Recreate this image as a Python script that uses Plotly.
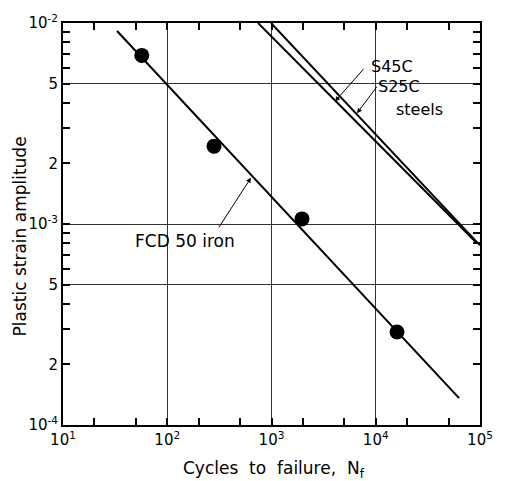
import math
import plotly.graph_objects as go

# ---- data ----
fcd_points_N = [57, 281, 1960, 16000]
fcd_points_eps = [6.9e-3, 2.44e-3, 1.06e-3, 2.9e-4]
fcd_line_N = [33, 63000]
fcd_line_eps = [9.13e-3, 1.36e-4]
s45c_line_N = [743, 91600]
s45c_line_eps = [1.0e-2, 8.11e-4]
s25c_line_N = [989, 100000]
s25c_line_eps = [1.0e-2, 7.83e-4]

x_tickvals = [10, 20, 50, 100, 200, 500, 1000, 2000, 5000, 10000, 20000, 50000, 100000]
x_ticktext = ["10<sup>1</sup>", "", "", "10<sup>2</sup>", "", "", "10<sup>3</sup>", "", "",
              "10<sup>4</sup>", "", "", "10<sup>5</sup>"]
y_tickvals = [1e-4, 2e-4, 3e-4, 4e-4, 5e-4, 6e-4, 7e-4, 8e-4, 9e-4,
              1e-3, 2e-3, 3e-3, 4e-3, 5e-3, 6e-3, 7e-3, 8e-3, 9e-3, 1e-2]
y_ticktext = ["10<sup>-4</sup>", "2", "", "", "5", "", "", "", "",
              "10<sup>-3</sup>", "2", "", "", "5", "", "", "", "", "10<sup>-2</sup>"]
grid_x = [100, 1000, 10000]
grid_y = [5e-4, 1e-3, 5e-3]

x_range = [1, 5]
y_range = [-4, -2]

FONT = "DejaVu Sans"

fig = go.Figure()

# invisible trace to anchor grid overlay axes
fig.add_trace(go.Scatter(x=[10, 100000], y=[1e-4, 1e-2], mode="markers",
                         marker=dict(opacity=0), xaxis="x2", yaxis="y2",
                         hoverinfo="skip", showlegend=False))

for xs, ys in [(fcd_line_N, fcd_line_eps), (s45c_line_N, s45c_line_eps),
               (s25c_line_N, s25c_line_eps)]:
    fig.add_trace(go.Scatter(x=xs, y=ys, mode="lines",
                             line=dict(color="black", width=2), showlegend=False))

fig.add_trace(go.Scatter(x=fcd_points_N, y=fcd_points_eps, mode="markers",
                         marker=dict(color="black", size=15), showlegend=False))

# annotations: (text, text position log10 x, log10 y, font size)
labels = [("S45C", 4.156, -2.215, 16), ("S25C", 4.223, -2.318, 16),
          ("steels", 4.424, -2.430, 16), ("FCD 50 iron", 2.175, -3.086, 17)]
for t, lx, ly, fs in labels:
    fig.add_annotation(x=lx, y=ly, xref="x", yref="y", text=t, showarrow=False,
                       font=dict(family=FONT, size=fs, color="black"))

# arrows: head position (log10 x, log10 y), tail offset in px
arrows = [(3.609, -2.390, 30, -34), (3.820, -2.449, 21, -28), (2.803, -2.770, -33, 51)]
for hx, hy, ax, ay in arrows:
    fig.add_annotation(x=hx, y=hy, xref="x", yref="y", text="", showarrow=True,
                       ax=ax, ay=ay, arrowhead=2, arrowsize=1, arrowwidth=1,
                       arrowcolor="black", standoff=0)

fig.add_annotation(x=-0.103, y=0.469, xref="paper", yref="paper",
                   xanchor="center", yanchor="middle",
                   text="Plastic strain amplitude", textangle=-90, showarrow=False,
                   font=dict(family=FONT, size=17, color="black"))
fig.add_annotation(x=0.505, y=-0.111, xref="paper", yref="paper",
                   xanchor="center", yanchor="middle",
                   text="Cycles  to  failure,  N<sub>f</sub>", showarrow=False,
                   font=dict(family=FONT, size=17, color="black"))

axis_common = dict(showline=True, linecolor="black", linewidth=2, mirror="allticks",
                   ticks="inside", ticklen=7, tickwidth=1.5, tickcolor="black",
                   showgrid=False, zeroline=False,
                   tickfont=dict(family=FONT, size=15, color="black"))

fig.update_layout(
    width=508, height=481,
    margin=dict(l=63, r=28, t=20, b=56),
    paper_bgcolor="white", plot_bgcolor="white",
    xaxis=dict(type="log", range=x_range, tickmode="array", tickvals=x_tickvals,
               ticktext=x_ticktext, **axis_common),
    yaxis=dict(type="log", range=y_range, tickmode="array", tickvals=y_tickvals,
               ticktext=y_ticktext, **axis_common),
    xaxis2=dict(type="log", range=x_range, overlaying="x", tickmode="array",
                tickvals=grid_x, showgrid=True, gridcolor="#333", gridwidth=1,
                showticklabels=False, ticks="", showline=False, zeroline=False),
    yaxis2=dict(type="log", range=y_range, overlaying="y", tickmode="array",
                tickvals=grid_y, showgrid=True, gridcolor="#333", gridwidth=1,
                showticklabels=False, ticks="", showline=False, zeroline=False),
)

fig.write_html("out.html", config={"displayModeBar": False},
               post_script="document.body.style.margin='0';document.body.style.padding='0';")
